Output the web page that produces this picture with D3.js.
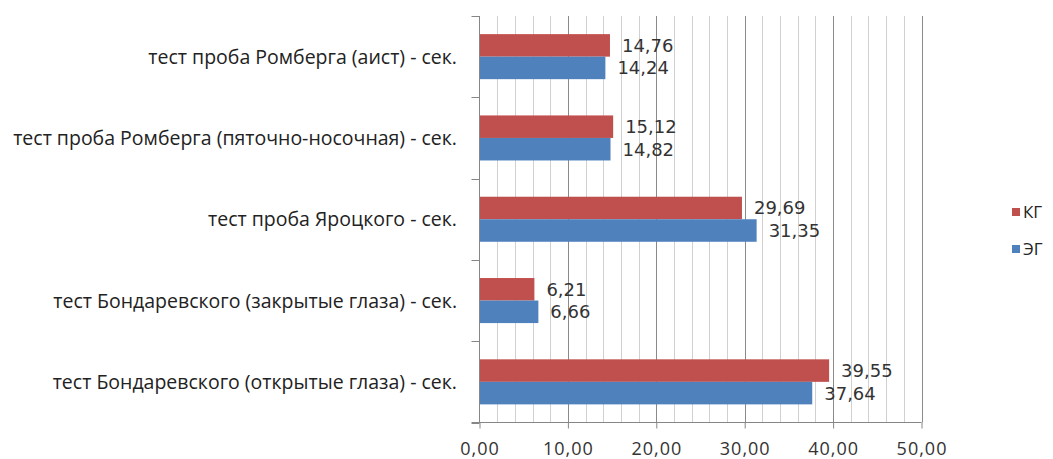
<!DOCTYPE html>
<html>
<head>
<meta charset="utf-8">
<script src="https://cdn.jsdelivr.net/npm/d3@7"></script>
<style>
  html, body { margin: 0; padding: 0; background: #fff; }
  svg { display: block; font-family: "Open Sans", "Noto Sans", sans-serif; }
</style>
</head>
<body>
<svg id="chart" width="1053" height="459"></svg>
<script>
const categories = [
  "тест проба Ромберга (аист) - сек.",
  "тест проба Ромберга (пяточно-носочная) - сек.",
  "тест проба Яроцкого - сек.",
  "тест Бондаревского (закрытые глаза) - сек.",
  "тест Бондаревского (открытые глаза) - сек."
];
const seriesNames = ["КГ", "ЭГ"];
const kgValues = [14.76, 15.12, 29.69, 6.21, 39.55];
const egValues = [14.24, 14.82, 31.35, 6.66, 37.64];
const xTicks = [0, 10, 20, 30, 40, 50];
const minorTicks = [2, 4, 6, 8, 12, 14, 16, 18, 22, 24, 26, 28, 32, 34, 36, 38, 42, 44, 46, 48];
const colors = ["#c0504d", "#4f81bd"];

(function () {
const series = [kgValues, egValues];
const fmt = v => v.toFixed(2).replace(".", ",");

const svg = d3.select("#chart");
const mLeft = 479.5, mRight = 921.5, mTop = 16, mBottom = 422.5;

const x = d3.scaleLinear().domain([0, 50]).range([mLeft, mRight]);
const y = d3.scaleBand().domain(categories).range([mTop, mBottom]).padding(0);
const yInner = d3.scaleBand().domain(seriesNames).range([0, y.step()]).paddingInner(0).paddingOuter(0.805);

// minor gridlines
svg.append("g").selectAll("line").data(minorTicks).join("line")
  .attr("x1", d => Math.round(x(d)) + 0.5).attr("x2", d => Math.round(x(d)) + 0.5)
  .attr("y1", mTop).attr("y2", mBottom)
  .attr("stroke", "#d0d0d0").attr("stroke-width", 1);

// major gridlines
svg.append("g").selectAll("line").data(xTicks.slice(1)).join("line")
  .attr("x1", d => Math.round(x(d)) + 0.5).attr("x2", d => Math.round(x(d)) + 0.5)
  .attr("y1", mTop).attr("y2", mBottom)
  .attr("stroke", "#8a8a8a").attr("stroke-width", 1);

// bars
const groups = svg.append("g").selectAll("g").data(categories).join("g")
  .attr("transform", d => `translate(0,${y(d)})`);

groups.selectAll("rect").data((d, i) => seriesNames.map((s, j) => ({ s, v: series[j][i], j })))
  .join("rect")
  .attr("x", x(0))
  .attr("y", d => yInner(d.s))
  .attr("width", d => x(d.v) - x(0))
  .attr("height", yInner.bandwidth())
  .attr("fill", d => colors[d.j]);

groups.selectAll("text").data((d, i) => seriesNames.map((s, j) => ({ s, v: series[j][i], j })))
  .join("text")
  .attr("x", d => x(d.v) + 12)
  .attr("y", d => yInner(d.s) + yInner.bandwidth() / 2)
  .attr("dy", "0.36em")
  .attr("font-family", "DejaVu Sans, sans-serif")
  .attr("font-size", 18)
  .attr("fill", "#333")
  .text(d => fmt(d.v));

// x axis
const xAxis = d3.axisBottom(x).tickValues(xTicks).tickSize(6).tickPadding(14).tickFormat(fmt);
const gx = svg.append("g").attr("transform", `translate(0,${mBottom})`).call(xAxis);
gx.select(".domain").attr("d", `M${mLeft - 8},0H${mRight}`).attr("stroke", "#868686");
gx.selectAll(".tick line").attr("stroke", "#868686");
gx.selectAll(".tick text").attr("font-size", 18).attr("letter-spacing", 1).attr("fill", "#333")
  .attr("font-family", "Open Sans, Noto Sans, sans-serif");

// y axis (category boundaries ticks)
const boundaries = categories.map(c => y(c)).concat([mBottom]);
svg.append("line").attr("x1", mLeft).attr("x2", mLeft).attr("y1", mTop).attr("y2", mBottom)
  .attr("stroke", "#868686");
svg.append("g").selectAll("line").data(boundaries).join("line")
  .attr("x1", mLeft - 8).attr("x2", mLeft)
  .attr("y1", d => Math.round(d) + 0.5).attr("y2", d => Math.round(d) + 0.5)
  .attr("stroke", "#868686");

svg.append("g").selectAll("text").data(categories).join("text")
  .attr("x", 457)
  .attr("y", d => y(d) + y.bandwidth() / 2)
  .attr("dy", "0.36em")
  .attr("text-anchor", "end")
  .attr("font-size", 19.5)
  .attr("fill", "#222")
  .text(d => d);

// legend
const legend = svg.append("g").selectAll("g").data(seriesNames).join("g")
  .attr("transform", (d, i) => `translate(1012,${208 + i * 37})`);
legend.append("rect").attr("width", 8).attr("height", 8).attr("fill", (d, i) => colors[i]);
legend.append("text").attr("x", 11).attr("y", 4).attr("dy", "0.36em")
  .attr("font-size", 17).attr("fill", "#222").text(d => d);
})();
</script>
</body>
</html>
